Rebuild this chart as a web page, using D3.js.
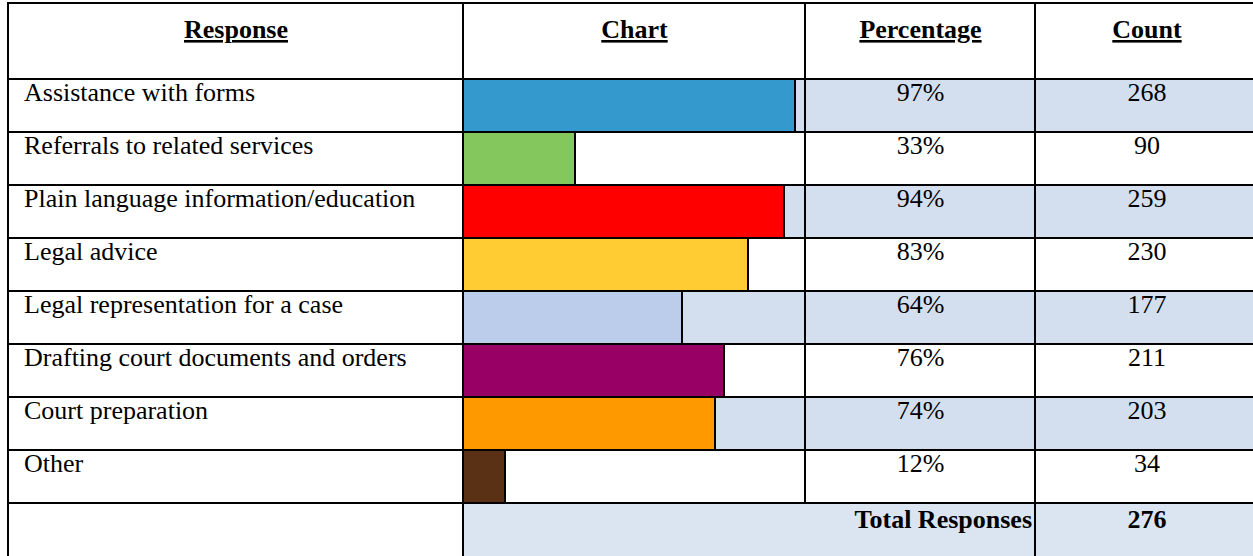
<!DOCTYPE html>
<html>
<head>
<meta charset="utf-8">
<script src="https://cdn.jsdelivr.net/npm/d3@7"></script>
<style>
  body { margin: 0; background: #fff; }
  text { font-family: "Liberation Serif", "Times New Roman", serif; fill: #000; }
</style>
</head>
<body>
<div id="chart"></div>
<script>
var responses = [
  'Assistance with forms',
  'Referrals to related services',
  'Plain language information/education',
  'Legal advice',
  'Legal representation for a case',
  'Drafting court documents and orders',
  'Court preparation',
  'Other'
];
var percentages = ['97%', '33%', '94%', '83%', '64%', '76%', '74%', '12%'];
var counts = [268, 90, 259, 230, 177, 211, 203, 34];
var barColors = ['#3499cc', '#84c75c', '#ff0000', '#ffcc33', '#bccdec', '#990066', '#ff9900', '#5b3116'];
var headers = ['Response', 'Chart', 'Percentage', 'Count'];
var totalResponses = 276;

var width = 1253, height = 556;
var fontSize = 26;

// column edges
var colX = [8, 463, 805, 1035];
var headTop = 3, headBottom = 79, bodyBottom = 503, totalBottom = 556;

var svg = d3.select('#chart')
  .append('svg')
  .attr('width', width)
  .attr('height', height);

var y = d3.scaleBand()
  .domain(responses)
  .range([headBottom, bodyBottom])
  .padding(0);

var x = d3.scaleLinear()
  .domain([0, 1])
  .range([colX[1], colX[2]]);

var rows = responses.map(function(r, i) {
  return { label: r, pct: percentages[i], count: counts[i], color: barColors[i], i: i };
});

// shading on every other row
svg.selectAll('rect.shade')
  .data(rows.filter(function(d) { return d.i % 2 === 0; }))
  .enter()
  .append('rect')
  .attr('class', 'shade')
  .attr('x', colX[1])
  .attr('y', function(d) { return y(d.label); })
  .attr('width', width - colX[1])
  .attr('height', y.bandwidth())
  .attr('fill', '#d3dfee');

// total row background
svg.append('rect')
  .attr('x', colX[1])
  .attr('y', bodyBottom)
  .attr('width', width - colX[1])
  .attr('height', totalBottom - bodyBottom)
  .attr('fill', '#dbe5f1');

// bars
svg.selectAll('rect.bar')
  .data(rows)
  .enter()
  .append('rect')
  .attr('class', 'bar')
  .attr('x', x(0))
  .attr('y', function(d) { return y(d.label); })
  .attr('width', function(d) { return Math.round(x(d.count / totalResponses) - x(0)); })
  .attr('height', y.bandwidth())
  .attr('fill', function(d) { return d.color; })
  .attr('stroke', '#000')
  .attr('stroke-width', 2);

// grid lines
var hLines = [headTop, headBottom].concat(responses.map(function(r) { return y(r) + y.bandwidth(); }));
svg.selectAll('line.h')
  .data(hLines)
  .enter()
  .append('line')
  .attr('x1', colX[0] - 1).attr('x2', width)
  .attr('y1', function(d) { return d; })
  .attr('y2', function(d) { return d; })
  .attr('stroke', '#000')
  .attr('stroke-width', 2);

// vertical lines
var vLines = [
  { x: colX[0], y1: headTop, y2: totalBottom },
  { x: colX[1], y1: headTop, y2: totalBottom },
  { x: colX[2], y1: headTop, y2: bodyBottom },
  { x: colX[3], y1: headTop, y2: totalBottom }
];
svg.selectAll('line.v')
  .data(vLines)
  .enter()
  .append('line')
  .attr('x1', function(d) { return d.x; })
  .attr('x2', function(d) { return d.x; })
  .attr('y1', function(d) { return d.y1; })
  .attr('y2', function(d) { return d.y2; })
  .attr('stroke', '#000')
  .attr('stroke-width', 2);

// headers
var headCx = [236, 634.5, 920.5, 1147];
svg.selectAll('text.head')
  .data(headers)
  .enter()
  .append('text')
  .attr('class', 'head')
  .attr('x', function(d, i) { return headCx[i]; })
  .attr('y', 38)
  .attr('text-anchor', 'middle')
  .attr('font-weight', 'bold')
  .attr('font-size', fontSize)
  .attr('text-decoration', 'underline')
  .text(function(d) { return d; });

// row texts
var rowText = svg.selectAll('g.row')
  .data(rows)
  .enter()
  .append('g')
  .attr('class', 'row')
  .attr('transform', function(d) { return 'translate(0,' + (y(d.label) + 22) + ')'; });

rowText.append('text')
  .attr('x', 24)
  .attr('font-size', fontSize)
  .text(function(d) { return d.label; });

rowText.append('text')
  .attr('x', headCx[2])
  .attr('text-anchor', 'middle')
  .attr('font-size', fontSize)
  .text(function(d) { return d.pct; });

rowText.append('text')
  .attr('x', headCx[3])
  .attr('text-anchor', 'middle')
  .attr('font-size', fontSize)
  .text(function(d) { return d.count; });

// total row
svg.append('text')
  .attr('x', colX[3] - 3)
  .attr('y', bodyBottom + 25)
  .attr('text-anchor', 'end')
  .attr('font-weight', 'bold')
  .attr('font-size', fontSize)
  .text('Total Responses');

svg.append('text')
  .attr('x', headCx[3])
  .attr('y', bodyBottom + 25)
  .attr('text-anchor', 'middle')
  .attr('font-weight', 'bold')
  .attr('font-size', fontSize)
  .text(totalResponses);
</script>
</body>
</html>
